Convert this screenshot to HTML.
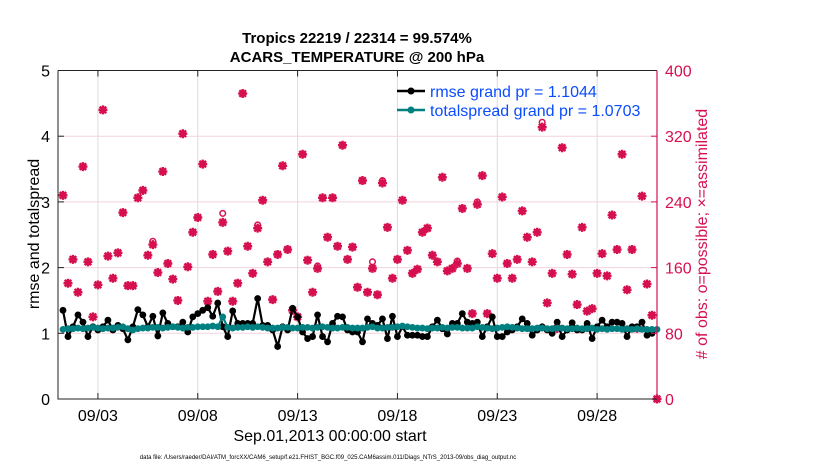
<!DOCTYPE html>
<html><head><meta charset="utf-8"><style>
body{margin:0;background:#fff;}
svg{display:block;font-family:"Liberation Sans",Arial,sans-serif;}
</style></head><body>
<svg id="chart" width="830" height="470" viewBox="0 0 830 470" xmlns="http://www.w3.org/2000/svg">
<g id="grid"></g>
<g id="marks"></g>
<g id="axes"></g>
<text x="357" y="43" text-anchor="middle" font-weight="bold" font-size="15">Tropics 22219 / 22314 = 99.574%</text>
<text x="357" y="62" text-anchor="middle" font-weight="bold" font-size="15">ACARS_TEMPERATURE @ 200 hPa</text>
<text transform="translate(39,234) rotate(-90)" text-anchor="middle" font-size="16">rmse and totalspread</text>
<text transform="translate(707,234) rotate(-90)" text-anchor="middle" font-size="16" fill="#d6104f"># of obs: o=possible; ×=assimilated</text>
<text x="330" y="441" text-anchor="middle" font-size="16">Sep.01,2013 00:00:00 start</text>
<text x="328" y="459" text-anchor="middle" font-size="6">data file: /Users/raeder/DAI/ATM_forcXX/CAM6_setup/f.e21.FHIST_BGC.f09_025.CAM6assim.011/Diags_NTrS_2013-09/obs_diag_output.nc</text>
<g id="legend">
<line x1="397" y1="91" x2="425" y2="91" stroke="#000" stroke-width="2.5"/><circle cx="411" cy="91" r="3.5" fill="#000"/>
<text x="430" y="97" font-size="16" fill="#0a4cff">rmse grand pr = 1.1044</text>
<line x1="397" y1="110" x2="425" y2="110" stroke="#008080" stroke-width="2.5"/><circle cx="411" cy="110" r="3.5" fill="#008080"/>
<text x="430" y="116" font-size="16" fill="#0a4cff">totalspread grand pr = 1.0703</text>
</g>
</svg>
<script>
const xTickLabels = ["09/03","09/08","09/13","09/18","09/23","09/28"];
const xTickDays = [2,7,12,17,22,27];
const yTicks = [0,1,2,3,4,5];
const y2Ticks = [0,80,160,240,320,400];
const obsAssimilated = [248,141,170,130,283,167,100,139,352,174,147,178,227,138,138,245,254,175,188,154,277,165,146,120,323,161,203,221,286,119,176,131,215,180,119,141,372,186,153,208,242,167,121,176,284,182,108,100,298,169,130,159,245,197,245,186,309,170,185,136,266,130,
159,127,263,209,147,170,242,181,153,158,203,208,175,167,270,156,159,165,232,159,104,237,272,104,177,147,246,165,147,170,229,197,167,203,331,117,153,86,306,176,152,115,209,107,110,153,177,150,224,182,298,133,182,86,247,140,102,0];
const obsPossible = [248,141,170,130,283,167,100,139,352,174,147,178,227,138,138,245,254,175,192,154,277,165,146,120,323,161,203,221,286,119,176,131,226,180,119,141,372,186,153,212,242,167,121,176,284,182,108,100,298,169,130,162,245,197,245,186,309,170,185,136,266,130,
167,127,266,209,147,170,242,181,153,158,203,208,175,167,270,156,159,168,232,159,104,240,272,104,177,147,246,165,147,170,229,197,167,203,337,117,153,86,306,176,152,115,209,107,110,153,177,150,224,182,298,133,182,86,247,140,102,0];
const rmse = [1.35,0.95,1.10,1.28,1.17,0.95,1.10,1.05,1.10,1.20,1.05,1.12,1.07,0.90,1.10,1.36,1.28,1.10,1.26,0.96,1.31,1.15,1.10,1.10,1.17,1.02,1.25,1.30,1.35,1.39,1.26,1.46,1.10,0.95,1.34,1.15,1.15,1.15,1.15,1.53,1.12,1.12,1.05,0.80,1.10,1.05,1.38,1.25,1.02,0.92,0.95,1.28,0.95,0.87,1.15,1.26,1.25,1.05,1.02,1.02,0.87,1.22,
1.15,1.12,1.22,0.92,1.26,0.95,1.10,0.97,0.97,0.97,0.95,0.95,1.10,1.20,1.07,0.99,1.15,1.15,1.30,1.17,1.15,1.17,0.95,1.10,1.25,0.95,0.95,1.02,1.05,1.10,1.22,1.15,0.97,1.05,1.10,1.05,1.00,1.17,0.95,1.05,1.16,1.05,1.05,1.15,0.92,1.10,1.20,1.10,1.17,1.17,1.15,0.95,1.10,1.10,1.17,0.97,1.00];
const spread = [1.06,1.07,1.07,1.08,1.07,1.08,1.09,1.08,1.07,1.08,1.08,1.09,1.10,1.07,1.05,1.07,1.08,1.08,1.09,1.09,1.08,1.09,1.10,1.09,1.08,1.09,1.09,1.10,1.10,1.10,1.11,1.10,1.25,1.09,1.08,1.09,1.09,1.10,1.09,1.10,1.09,1.08,1.08,1.08,1.09,1.09,1.08,1.08,1.09,1.09,1.08,1.09,1.10,1.09,1.08,1.08,1.09,1.09,1.08,1.08,1.08,1.09,
1.10,1.08,1.08,1.09,1.09,1.10,1.11,1.10,1.09,1.08,1.08,1.07,1.08,1.08,1.09,1.08,1.09,1.09,1.08,1.08,1.08,1.10,1.09,1.08,1.07,1.08,1.09,1.10,1.09,1.08,1.07,1.07,1.07,1.08,1.08,1.07,1.07,1.08,1.08,1.07,1.07,1.08,1.07,1.07,1.08,1.06,1.07,1.06,1.07,1.07,1.06,1.07,1.06,1.07,1.06,1.06,1.06,1.06];
const X0=58,X1=657,Y0=399,Y1=70.5,DMIN=0,DMAX=30;
const sx=d=>X0+(d-DMIN)/(DMAX-DMIN)*(X1-X0);
const sy=v=>Y0-(v/5)*(Y0-Y1);
const sy2=v=>Y0-(v/400)*(Y0-Y1);
const tday=i=>0.25*(i+1);
const NS="http://www.w3.org/2000/svg";
function mk(tag,attrs,parent){const e=document.createElementNS(NS,tag);for(const k in attrs)e.setAttribute(k,attrs[k]);parent.appendChild(e);return e;}
const grid=document.getElementById('grid'),marks=document.getElementById('marks'),axes=document.getElementById('axes');
xTickDays.forEach((d,i)=>{
  const l=mk('line',{x1:sx(d),x2:sx(d),y1:Y1,y2:Y0,stroke:'#dcdcdc','stroke-width':1},grid);
  
  
  const t=mk('line',{x1:sx(d),x2:sx(d),y1:Y0,y2:Y0-6,stroke:'#222','stroke-width':1},axes);
  
  
  const t2=mk('line',{x1:sx(d),x2:sx(d),y1:Y1,y2:Y1+6,stroke:'#222','stroke-width':1},axes);
  
  
  const tx=mk('text',{x:sx(d),y:Y0+22,'text-anchor':'middle','font-size':16},axes);
  tx.textContent=xTickLabels[i];
  
  
});
y2Ticks.forEach(v=>{
  if(v>0&&v<400){const g=mk('line',{x1:X0,x2:X1,y1:sy2(v),y2:sy2(v),stroke:'#f3d3de','stroke-width':1},grid);
  
  }
  const t=mk('line',{x1:X1,x2:X1-6,y1:sy2(v),y2:sy2(v),stroke:'#d6104f'},axes);
  
  
  const tx=mk('text',{x:X1+8,y:sy2(v)+6,'font-size':16,fill:'#d6104f'},axes);
  tx.textContent=v;
  
  
});
yTicks.forEach(v=>{
  const t=mk('line',{x1:X0,x2:X0+6,y1:sy(v),y2:sy(v),stroke:'#222'},axes);
  
  
  const tx=mk('text',{x:X0-8,y:sy(v)+6,'text-anchor':'end','font-size':16},axes);
  tx.textContent=v;
  
  
});
const ax=mk('path',{d:`M${X0},${Y1}V${Y0}H${X1}M${X0},${Y1}H${X1}`,stroke:'#222',fill:'none','stroke-width':1},axes);


const ax2=mk('line',{x1:X1,x2:X1,y1:Y1,y2:Y0,stroke:'#d6104f','stroke-width':1.2},axes);


obsPossible.forEach((v,i)=>{
  const c=mk('circle',{cx:sx(tday(i)),cy:sy2(v),r:2.8,fill:'none',stroke:'#d6104f','stroke-width':1.5},marks);
  
  
});
obsAssimilated.forEach((v,i)=>{
  const x=sx(tday(i)),y=sy2(v),r=4.5;
  const p=mk('path',{d:`M${x-r},${y}H${x+r}M${x},${y-r}V${y+r}M${x-3.3},${y-3.3}L${x+3.3},${y+3.3}M${x-3.3},${y+3.3}L${x+3.3},${y-3.3}`,stroke:'#d6104f','stroke-width':2.4},marks);
  
  
});
function series(arr,color,name){
  const d=arr.map((v,i)=>(i?'L':'M')+sx(tday(i))+','+sy(v)).join('');
  const p=mk('path',{d:d,stroke:color,fill:'none','stroke-width':2.2},marks);
  
  
  arr.forEach((v,i)=>{
    const c=mk('circle',{cx:sx(tday(i)),cy:sy(v),r:3.4,fill:color},marks);
    
    
  });
}
series(rmse,'#000','rmse');
series(spread,'#008080','totalspread');
</script>
</body></html>
